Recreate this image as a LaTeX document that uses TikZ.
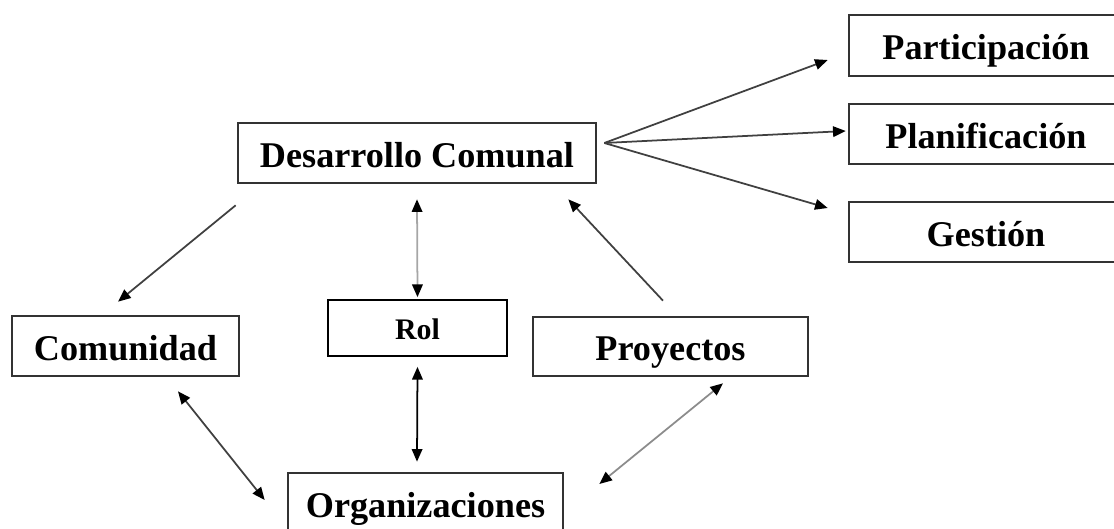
\documentclass[tikz,border=0pt]{standalone}
\usepackage{fontspec}
\setmainfont{Liberation Serif}
\usetikzlibrary{arrows.meta}

\begin{document}
\begin{tikzpicture}[
    box/.style={draw=black!80, line width=0.75pt, inner sep=0pt, minimum height=0.60cm,
        text height=8pt, text depth=0pt, font=\fontsize{10.3}{12}\selectfont\bfseries},
    link/.style={draw=black!75, line width=0.5pt, -{Triangle[length=3.6pt, width=3pt, color=black]}},
    both/.style={link, {Triangle[length=3.6pt, width=3pt, color=black]}-{Triangle[length=3.6pt, width=3pt, color=black]}},
    faint/.style={draw=black!35}]
    \useasboundingbox (0, 0) rectangle (11.14, -5.29);

    % boxes
    \node[box, minimum width=3.58cm] (dc) at (4.17, -1.53) {Desarrollo Comunal};
    \node[box, minimum width=2.74cm, minimum height=0.61cm] (part) at (9.86, -0.455) {Participación};
    \node[box, minimum width=2.74cm] (plan) at (9.86, -1.34) {Planificación};
    \node[box, minimum width=2.74cm] (gest) at (9.86, -2.32) {Gestión};
    \node[box, minimum width=2.27cm] (com) at (1.255, -3.46) {Comunidad};
    \node[box, minimum width=1.79cm, minimum height=0.56cm, line width=0.5pt, draw=black, text height=6.8pt,
        font=\fontsize{8.5}{10}\selectfont\bfseries] (rol) at (4.175, -3.28) {Rol};
    \node[box, minimum width=2.75cm, minimum height=0.59cm] (proy) at (6.705, -3.465) {Proyectos};
    \node[box, minimum width=2.75cm] (org) at (4.255, -5.03) {Organizaciones};

    % fan to the right
    \coordinate (fan) at ([shift={(0.07, 0.10)}]dc.east);
    \draw[link] (fan) -- ([shift={(-0.20, -0.145)}]part.west);
    \draw[link] (fan) -- ([shift={(-0.02, 0.03)}]plan.west);
    \draw[link] (fan) -- ([shift={(-0.20, 0.24)}]gest.west);

    % around the centre
    \draw[link] ([shift={(-0.01, -0.21)}]dc.south west) -- ([shift={(-0.075, 0.13)}]com.north);
    \draw[both, faint] ([shift={(0, 0.02)}]rol.north) -- ([shift={(0, -0.15)}]dc.south);
    \draw[link] ([shift={(-0.075, 0.15)}]proy.north) -- ([shift={(-0.29, -0.15)}]dc.south east);
    \draw[both, draw=black] ([shift={(0, -0.10)}]rol.south) -- ([shift={(-0.085, 0.10)}]org.north);
    \draw[both] ([shift={(0.525, -0.14)}]com.south) -- ([shift={(-0.22, 0.03)}]org.west);
    \draw[both, faint, draw=black!45] ([shift={(0.525, -0.06)}]proy.south) -- ([shift={(0.35, 0.19)}]org.east);
\end{tikzpicture}
\end{document}
